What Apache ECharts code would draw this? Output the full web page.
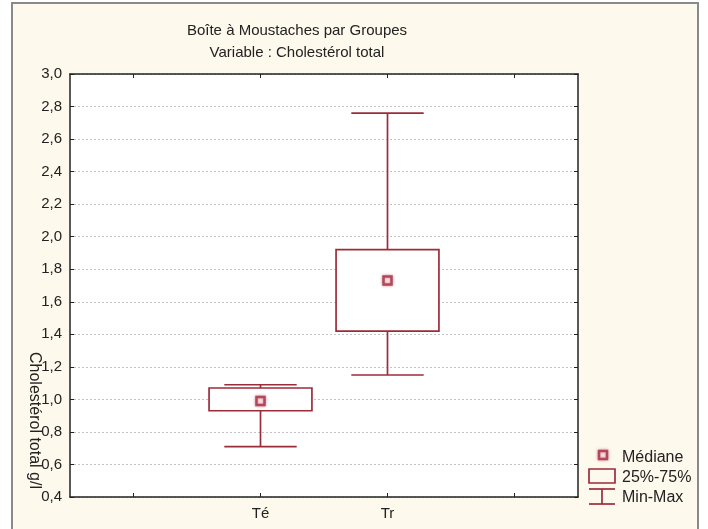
<!DOCTYPE html>
<html>
<head>
<meta charset="utf-8">
<script src="https://cdn.jsdelivr.net/npm/echarts@6/dist/echarts.min.js"></script>
<style>
  html, body { margin: 0; padding: 0; background: #ffffff; }
  #frame { position: absolute; left: 11px; top: 2px; width: 688px; height: 540px;
           background: #fdf9ec; border-left: 2px solid #8a8a8a; border-top: 2px solid #8a8a8a;
           border-right: 2px solid #8a8a8a; box-sizing: border-box; }
  #chart { position: absolute; left: 0; top: 0; width: 708px; height: 529px; }
</style>
</head>
<body>
<div id="frame"></div>
<div id="chart"></div>
<script>
// Group labels (outer slots are empty padding on the category axis)
const categories = ['', 'Té', 'Tr', ''];
const groups = ['Té', 'Tr'];
// Five-number summaries of total cholesterol (g/l)
const minVals = [0.71, 1.15];
const q1Vals = [0.93, 1.42];
const medianVals = [0.99, 1.73];
const q3Vals = [1.07, 1.92];
const maxVals = [1.09, 2.76];
// Value axis ticks
const yTicks = [0.4, 0.6, 0.8, 1.0, 1.2, 1.4, 1.6, 1.8, 2.0, 2.2, 2.4, 2.6, 2.8, 3.0];

const boxColor = '#9b2d3a';
const textColor = '#222222';
const font = '"Liberation Sans", Arial, sans-serif';

const boxData = groups.map((g, i) => [g, minVals[i], q1Vals[i], medianVals[i], q3Vals[i], maxVals[i]]);

function renderBox(params, api) {
  const x = api.value(0);
  const band = api.size([1, 0])[0];
  const boxW = band * 0.81;
  const capW = band * 0.57;
  const pMin = api.coord([x, api.value(1)]);
  const pQ1 = api.coord([x, api.value(2)]);
  const pMed = api.coord([x, api.value(3)]);
  const pQ3 = api.coord([x, api.value(4)]);
  const pMax = api.coord([x, api.value(5)]);
  const cx = pMed[0];
  const line = { stroke: boxColor, lineWidth: 1.7, fill: null };
  return {
    type: 'group',
    children: [
      { type: 'line', shape: { x1: cx, y1: pQ3[1], x2: cx, y2: pMax[1] }, style: line },
      { type: 'line', shape: { x1: cx, y1: pQ1[1], x2: cx, y2: pMin[1] }, style: line },
      { type: 'line', shape: { x1: cx - capW / 2, y1: pMax[1], x2: cx + capW / 2, y2: pMax[1] }, style: line },
      { type: 'line', shape: { x1: cx - capW / 2, y1: pMin[1], x2: cx + capW / 2, y2: pMin[1] }, style: line },
      { type: 'rect', shape: { x: cx - boxW / 2, y: pQ3[1], width: boxW, height: pQ1[1] - pQ3[1] },
        style: { stroke: boxColor, lineWidth: 1.7, fill: '#ffffff' } },
      { type: 'rect', shape: { x: cx - 4, y: pMed[1] - 4, width: 8, height: 8 },
        style: { stroke: '#b4485a', lineWidth: 2.5, fill: '#fbecef',
                 shadowBlur: 3, shadowColor: 'rgba(180,72,90,0.6)' } }
    ]
  };
}

const chart = echarts.init(document.getElementById('chart'), null, { renderer: 'canvas' });

const yAxisBase = {
  type: 'value', min: 0.4, max: 3.0, interval: 0.2,
  axisLine: { show: true, lineStyle: { color: textColor, width: 1.5 } },
  axisTick: { show: true, inside: true, length: 4, lineStyle: { color: textColor, width: 1 } }
};
const xAxisBase = {
  type: 'category', data: categories, boundaryGap: true,
  axisLine: { show: true, lineStyle: { color: textColor, width: 1.5 } },
  axisTick: { show: true, inside: true, alignWithLabel: true, length: 4, lineStyle: { color: textColor, width: 1 } }
};

chart.setOption({
  backgroundColor: 'transparent',
  animation: false,
  grid: { left: 70, right: 130, top: 74, bottom: 32, show: true, backgroundColor: '#ffffff', borderWidth: 0 },
  xAxis: [
    Object.assign({}, xAxisBase, { position: 'bottom',
      axisLabel: { show: true, margin: 9, color: textColor, fontFamily: font, fontSize: 15 } }),
    Object.assign({}, xAxisBase, { position: 'top', axisLabel: { show: false } })
  ],
  yAxis: [
    Object.assign({}, yAxisBase, { position: 'left',
      axisLabel: { show: true, margin: 8, color: textColor, fontFamily: font, fontSize: 15,
        formatter: v => yTicks.includes(Math.round(v * 10) / 10) ? v.toFixed(1).replace('.', ',') : '' },
      splitLine: { show: true, lineStyle: { color: '#c4c4c4', type: [2, 2], width: 1 } } }),
    Object.assign({}, yAxisBase, { position: 'right', axisLabel: { show: false }, splitLine: { show: false } })
  ],
  series: [{
    type: 'custom',
    renderItem: renderBox,
    encode: { x: 0, y: [1, 2, 3, 4, 5] },
    data: boxData,
    z: 5
  }],
  graphic: [
    // chart titles
    { type: 'text', x: 297, y: 31, style: { text: 'Boîte à Moustaches par Groupes', fill: textColor,
        font: '15px ' + font, align: 'center', verticalAlign: 'middle' } },
    { type: 'text', x: 297, y: 53, style: { text: 'Variable : Cholestérol total', fill: textColor,
        font: '15px ' + font, align: 'center', verticalAlign: 'middle' } },
    // value axis name, read top to bottom
    { type: 'text', x: 42, y: 352, rotation: -Math.PI / 2,
      style: { text: 'Cholestérol total g/l', fill: textColor, font: '16px ' + font, align: 'left', verticalAlign: 'top' } },
    // legend: median marker
    { type: 'rect', shape: { x: 599, y: 451, width: 8, height: 8 },
      style: { stroke: '#b4485a', lineWidth: 2.5, fill: '#fbecef', shadowBlur: 3, shadowColor: 'rgba(180,72,90,0.6)' } },
    { type: 'text', x: 622, y: 458, style: { text: 'Médiane', fill: textColor, font: '16px ' + font, verticalAlign: 'middle' } },
    // legend: quartile box
    { type: 'rect', shape: { x: 589, y: 469, width: 26, height: 14 },
      style: { stroke: boxColor, lineWidth: 1.7, fill: 'transparent' } },
    { type: 'text', x: 622, y: 478, style: { text: '25%-75%', fill: textColor, font: '16px ' + font, verticalAlign: 'middle' } },
    // legend: whisker range
    { type: 'line', shape: { x1: 589, y1: 489, x2: 615, y2: 489 }, style: { stroke: boxColor, lineWidth: 1.7 } },
    { type: 'line', shape: { x1: 602, y1: 489, x2: 602, y2: 504 }, style: { stroke: boxColor, lineWidth: 1.7 } },
    { type: 'line', shape: { x1: 589, y1: 504, x2: 615, y2: 504 }, style: { stroke: boxColor, lineWidth: 1.7 } },
    { type: 'text', x: 622, y: 498, style: { text: 'Min-Max', fill: textColor, font: '16px ' + font, verticalAlign: 'middle' } }
  ]
});
</script>
</body>
</html>
